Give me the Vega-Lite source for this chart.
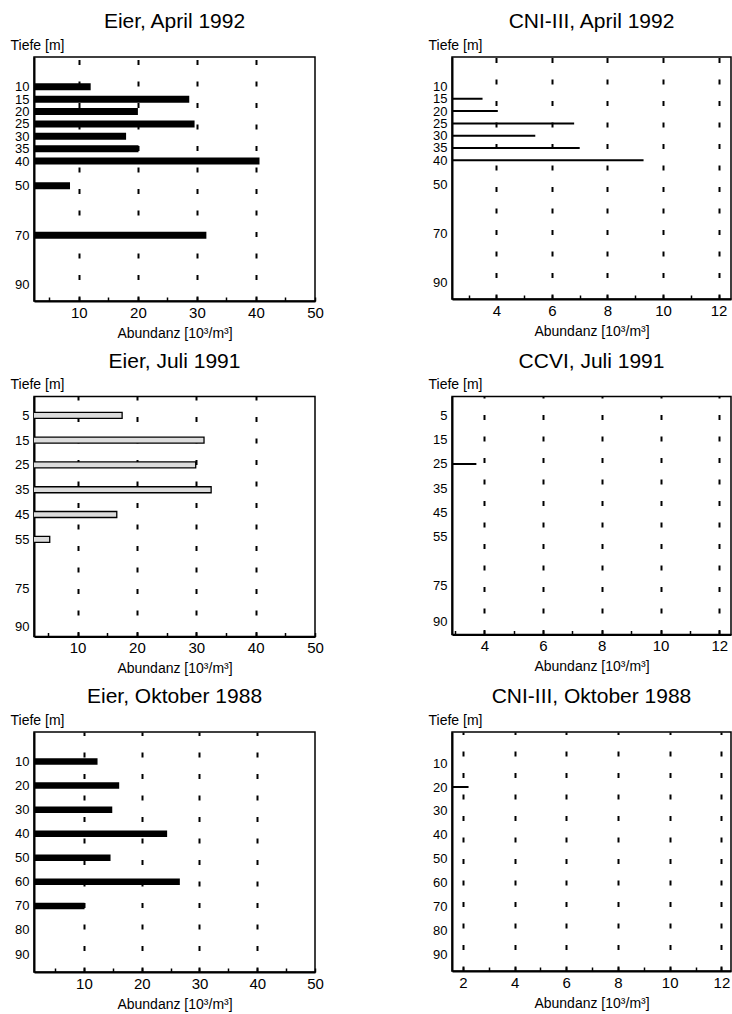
{
  "$schema": "https://vega.github.io/schema/vega-lite/v6.json",
  "padding": {"left": 9, "top": 10, "right": 0, "bottom": 0},
  "autosize": {"type": "pad"},
  "background": "white",
  "bounds": "flush",
  "columns": 2,
  "spacing": {"row": 95.5, "column": 137},
  "config": {
    "font": "Liberation Sans",
    "view": {"stroke": "black", "strokeWidth": 1.5},
    "title": {"font": "Liberation Sans", "fontSize": 21, "fontWeight": "normal", "color": "black", "anchor": "middle", "frame": "group", "baseline": "alphabetic", "offset": 6},
    "axis": {"domainColor": "black", "domainWidth": 2, "labelColor": "black", "labelFont": "Liberation Sans", "titleColor": "black", "titleFont": "Liberation Sans", "titleFontSize": 14, "titleFontWeight": "normal", "labelOverlap": false, "labelBound": false, "labelFlush": false},
    "axisX": {"labelFontSize": 15, "tickColor": "black", "tickWidth": 1.5, "tickSize": -4, "labelPadding": 8, "titlePadding": 6, "gridColor": "black", "gridWidth": 2, "gridDash": [5, 16.5]},
    "axisY": {"labelFontSize": 13, "ticks": false, "grid": false, "labelPadding": 5, "titleAngle": 0, "titleAlign": "left", "titleBaseline": "alphabetic", "titleX": -24, "titleY": -8}
  },
  "concat": [
    {
      "width": 281, "height": 244,
      "title": "Eier, April 1992",
      "data": {"values": [
        {"Tiefe": 10, "Abundanz": 12.0}, {"Tiefe": 15, "Abundanz": 28.7}, {"Tiefe": 20, "Abundanz": 20.0},
        {"Tiefe": 25, "Abundanz": 29.6}, {"Tiefe": 30, "Abundanz": 18.0}, {"Tiefe": 35, "Abundanz": 20.1},
        {"Tiefe": 40, "Abundanz": 40.6}, {"Tiefe": 50, "Abundanz": 8.5}, {"Tiefe": 70, "Abundanz": 31.6}
      ]},
      "mark": {"type": "bar", "orient": "horizontal", "color": "black", "size": 7, "clip": true},
      "encoding": {
        "y": {"field": "Tiefe", "type": "quantitative", "scale": {"domain": [0, 94.5], "reverse": true, "nice": false, "zero": false},
              "axis": {"title": "Tiefe [m]", "values": [10, 15, 20, 25, 30, 35, 40, 50, 70, 90]}},
        "x": {"field": "Abundanz", "type": "quantitative", "scale": {"domain": [2.4, 50], "nice": false, "zero": false},
              "axis": {"title": "Abundanz [10³/m³]", "grid": true, "values": [5, 10, 15, 20, 25, 30, 35, 40, 45, 50],
                       "labelExpr": "datum.value % 10 === 0 ? datum.label : ''",
                       "gridOpacity": {"condition": {"test": "datum.value % 10 === 0 && datum.value < 50", "value": 1}, "value": 0}}}
      }
    },
    {
      "width": 279, "height": 242,
      "title": "CNI-III, April 1992",
      "data": {"values": [
        {"Tiefe": 15, "Abundanz": 3.5}, {"Tiefe": 20, "Abundanz": 4.05}, {"Tiefe": 25, "Abundanz": 6.8},
        {"Tiefe": 30, "Abundanz": 5.4}, {"Tiefe": 35, "Abundanz": 7.0}, {"Tiefe": 40, "Abundanz": 9.3}
      ]},
      "mark": {"type": "bar", "orient": "horizontal", "color": "black", "size": 2, "clip": true},
      "encoding": {
        "y": {"field": "Tiefe", "type": "quantitative", "scale": {"domain": [0, 94.5], "reverse": true, "nice": false, "zero": false},
              "axis": {"title": "Tiefe [m]", "values": [10, 15, 20, 25, 30, 35, 40, 50, 70, 90]}},
        "x": {"field": "Abundanz", "type": "quantitative", "scale": {"domain": [2.4, 12.45], "nice": false, "zero": false},
              "axis": {"title": "Abundanz [10³/m³]", "grid": true, "values": [3, 4, 5, 6, 7, 8, 9, 10, 11, 12],
                       "labelExpr": "datum.value % 2 === 0 ? datum.label : ''",
                       "gridOpacity": {"condition": {"test": "datum.value % 2 === 0", "value": 1}, "value": 0}}}
      }
    },
    {
      "width": 281, "height": 240,
      "title": "Eier, Juli 1991",
      "data": {"values": [
        {"Tiefe": 5, "Abundanz": 17.5}, {"Tiefe": 15, "Abundanz": 31.3}, {"Tiefe": 25, "Abundanz": 29.9},
        {"Tiefe": 35, "Abundanz": 32.5}, {"Tiefe": 45, "Abundanz": 16.6}, {"Tiefe": 55, "Abundanz": 5.3}
      ]},
      "mark": {"type": "bar", "orient": "horizontal", "fill": "#dcdcdc", "stroke": "black", "strokeWidth": 1.3, "size": 6, "clip": true},
      "encoding": {
        "y": {"field": "Tiefe", "type": "quantitative", "scale": {"domain": [-0.6, 92.2], "reverse": true, "nice": false, "zero": false},
              "axis": {"title": "Tiefe [m]", "values": [5, 15, 25, 35, 45, 55, 75, 90]}},
        "x": {"field": "Abundanz", "type": "quantitative", "scale": {"domain": [2.65, 50], "nice": false, "zero": false},
              "axis": {"title": "Abundanz [10³/m³]", "grid": true, "values": [5, 10, 15, 20, 25, 30, 35, 40, 45, 50],
                       "labelExpr": "datum.value % 10 === 0 ? datum.label : ''",
                       "gridOpacity": {"condition": {"test": "datum.value % 10 === 0 && datum.value < 50", "value": 1}, "value": 0}}}
      }
    },
    {
      "width": 279, "height": 238,
      "title": "CCVI, Juli 1991",
      "data": {"values": [
        {"Tiefe": 25, "Abundanz": 3.73}
      ]},
      "mark": {"type": "bar", "orient": "horizontal", "color": "black", "size": 2, "clip": true},
      "encoding": {
        "y": {"field": "Tiefe", "type": "quantitative", "scale": {"domain": [-0.7, 93.2], "reverse": true, "nice": false, "zero": false},
              "axis": {"title": "Tiefe [m]", "values": [5, 15, 25, 35, 45, 55, 75, 90]}},
        "x": {"field": "Abundanz", "type": "quantitative", "scale": {"domain": [2.9, 12.4], "nice": false, "zero": false},
              "axis": {"title": "Abundanz [10³/m³]", "grid": true, "values": [3, 4, 5, 6, 7, 8, 9, 10, 11, 12],
                       "labelExpr": "datum.value % 2 === 0 ? datum.label : ''",
                       "gridOpacity": {"condition": {"test": "datum.value % 2 === 0", "value": 1}, "value": 0}}}
      }
    },
    {
      "width": 281, "height": 240,
      "title": "Eier, Oktober 1988",
      "data": {"values": [
        {"Tiefe": 10, "Abundanz": 12.35}, {"Tiefe": 20, "Abundanz": 16.1}, {"Tiefe": 30, "Abundanz": 14.9},
        {"Tiefe": 40, "Abundanz": 24.4}, {"Tiefe": 50, "Abundanz": 14.6}, {"Tiefe": 60, "Abundanz": 26.6},
        {"Tiefe": 70, "Abundanz": 10.1}
      ]},
      "mark": {"type": "bar", "orient": "horizontal", "color": "black", "size": 6.5, "clip": true},
      "encoding": {
        "y": {"field": "Tiefe", "type": "quantitative", "scale": {"domain": [-0.2, 95.4], "reverse": true, "nice": false, "zero": false},
              "axis": {"title": "Tiefe [m]", "values": [10, 20, 30, 40, 50, 60, 70, 80, 90]}},
        "x": {"field": "Abundanz", "type": "quantitative", "scale": {"domain": [1.35, 50], "nice": false, "zero": false},
              "axis": {"title": "Abundanz [10³/m³]", "grid": true, "values": [5, 10, 15, 20, 25, 30, 35, 40, 45, 50],
                       "labelExpr": "datum.value % 10 === 0 ? datum.label : ''",
                       "gridOpacity": {"condition": {"test": "datum.value % 10 === 0 && datum.value < 50", "value": 1}, "value": 0}}}
      }
    },
    {
      "width": 279, "height": 239,
      "title": "CNI-III, Oktober 1988",
      "data": {"values": [
        {"Tiefe": 20, "Abundanz": 2.22}
      ]},
      "mark": {"type": "bar", "orient": "horizontal", "color": "black", "size": 2, "clip": true},
      "encoding": {
        "y": {"field": "Tiefe", "type": "quantitative", "scale": {"domain": [-1, 95], "reverse": true, "nice": false, "zero": false},
              "axis": {"title": "Tiefe [m]", "values": [10, 20, 30, 40, 50, 60, 70, 80, 90]}},
        "x": {"field": "Abundanz", "type": "quantitative", "scale": {"domain": [1.58, 12.37], "nice": false, "zero": false},
              "axis": {"title": "Abundanz [10³/m³]", "grid": true, "values": [2, 3, 4, 5, 6, 7, 8, 9, 10, 11, 12],
                       "labelExpr": "datum.value % 2 === 0 ? datum.label : ''",
                       "gridOpacity": {"condition": {"test": "datum.value % 2 === 0", "value": 1}, "value": 0}}}
      }
    }
  ]
}
